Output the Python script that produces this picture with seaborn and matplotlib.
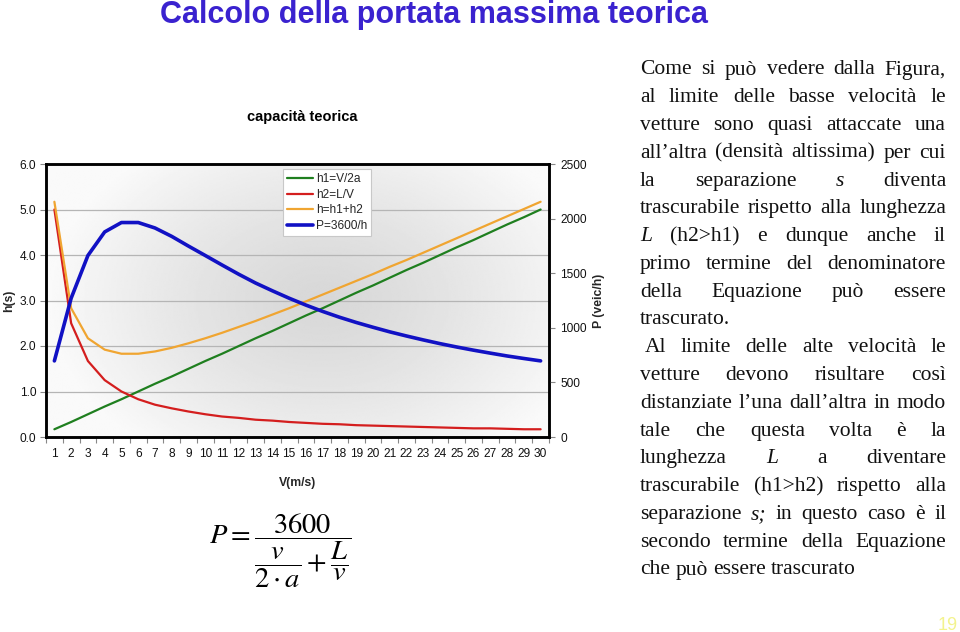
import numpy as np
import pandas as pd
import matplotlib
matplotlib.use("Agg")
import matplotlib.pyplot as plt
from matplotlib.transforms import IdentityTransform
from matplotlib.ticker import FixedLocator
import seaborn as sns

# ---------------- data ----------------
V = list(range(1, 31))
h1 = [0.17, 0.33, 0.50, 0.67, 0.83, 1.00, 1.17, 1.33, 1.50, 1.67, 1.83, 2.00, 2.17, 2.33, 2.50,
      2.67, 2.83, 3.00, 3.17, 3.33, 3.50, 3.67, 3.83, 4.00, 4.17, 4.33, 4.50, 4.67, 4.83, 5.00]
h2 = [5.00, 2.50, 1.67, 1.25, 1.00, 0.83, 0.71, 0.63, 0.56, 0.50, 0.45, 0.42, 0.38, 0.36, 0.33,
      0.31, 0.29, 0.28, 0.26, 0.25, 0.24, 0.23, 0.22, 0.21, 0.20, 0.19, 0.19, 0.18, 0.17, 0.17]
h = [5.17, 2.83, 2.17, 1.92, 1.83, 1.83, 1.88, 1.96, 2.06, 2.17, 2.29, 2.42, 2.55, 2.69, 2.83,
     2.98, 3.13, 3.28, 3.43, 3.58, 3.74, 3.89, 4.05, 4.21, 4.37, 4.53, 4.69, 4.85, 5.01, 5.17]
P = [697, 1271, 1662, 1878, 1964, 1964, 1914, 1837, 1748, 1662, 1575, 1490, 1410, 1339, 1271,
     1208, 1150, 1097, 1049, 1005, 963, 925, 889, 855, 824, 795, 768, 742, 719, 697]
series_labels = ["h1=V/2a", "h2=L/V", "h=h1+h2", "P=3600/h"]
left_ticks = [0, 1, 2, 3, 4, 5, 6]
left_ticklabels = ["0.0", "1.0", "2.0", "3.0", "4.0", "5.0", "6.0"]
right_ticks = [0, 500, 1000, 1500, 2000, 2500]

df = pd.DataFrame({"V": V, "h1": h1, "h2": h2, "h": h, "P": P})

sns.set_theme(style="white")
plt.rcParams["font.family"] = ["Liberation Sans", "DejaVu Sans"]
plt.rcParams["mathtext.fontset"] = "stix"

W, H = 960, 632
fig = plt.figure(figsize=(W / 100, H / 100), dpi=100)
fig.patch.set_facecolor("white")

ax_l, ax_r, ax_t, ax_b = 46, 549, 164, 437
ax = fig.add_axes([ax_l / W, 1 - ax_b / H, (ax_r - ax_l) / W, (ax_b - ax_t) / H])
ax2 = ax.twinx()

# background gradient
ny, nx = 200, 300
yy, xx = np.mgrid[0:1:ny * 1j, 0:1:nx * 1j]
rr = np.sqrt(((xx - 0.55) / 0.55) ** 2 + ((yy - 0.5) / 0.7) ** 2)
bg = 0.845 + 0.135 * np.clip(rr, 0, 1) ** 1.3
ax.imshow(bg, extent=(0.5, 30.5, 0, 6), origin="lower", aspect="auto",
          cmap="gray", vmin=0, vmax=1, zorder=-2, interpolation="bilinear")

c_green, c_red, c_orange, c_blue = "#1f7f1f", "#d41e1e", "#f0a531", "#1111c4"
sns.lineplot(data=df, x="V", y="h1", ax=ax, color=c_green, lw=1.6, label=series_labels[0], legend=False)
sns.lineplot(data=df, x="V", y="h2", ax=ax, color=c_red, lw=1.6, label=series_labels[1], legend=False)
sns.lineplot(data=df, x="V", y="h", ax=ax, color=c_orange, lw=1.6, label=series_labels[2], legend=False)
sns.lineplot(data=df, x="V", y="P", ax=ax2, color=c_blue, lw=2.6, label=series_labels[3], legend=False)

ax.set_xlim(0.5, 30.5)
ax.set_ylim(0, 6)
ax2.set_ylim(0, 2500)

ax.yaxis.grid(True, color="#b5b5b5", lw=0.9)
ax.xaxis.grid(False)
ax2.grid(False)

ax.set_yticks(left_ticks)
ax.set_yticklabels(left_ticklabels)
ax2.set_yticks(right_ticks)
ax2.set_yticklabels([str(t) for t in right_ticks])
ax.set_xticks(V)
ax.set_xticklabels([str(v) for v in V])
ax.xaxis.set_minor_locator(FixedLocator(np.arange(0.5, 31, 1)))

ax.tick_params(axis="x", which="major", length=0, pad=8, labelsize=8.6, colors="#111111")
ax.tick_params(axis="x", which="minor", length=4, width=0.8, color="#888888", direction="out", bottom=True)
ax.tick_params(axis="y", which="major", length=4, width=0.8, color="#888888", direction="out",
               left=True, pad=3, labelsize=8.6, labelcolor="#111111")
ax2.tick_params(axis="y", which="major", length=4, width=0.8, color="#888888", direction="out",
                right=True, pad=4, labelsize=8.6, labelcolor="#111111")

for a in (ax, ax2):
    for s in a.spines.values():
        s.set_color("black")
        s.set_linewidth(1.8)
        s.set_visible(True)

ax.set_xlabel("V(m/s)", fontsize=8.8, fontweight="bold")
ax.set_ylabel("h(s)", fontsize=8.8, fontweight="bold")
ax2.set_ylabel("P (veic/h)", fontsize=8.8, fontweight="bold")
ax.xaxis.set_label_coords(0.5, -0.148)
ax.yaxis.set_label_coords(-0.062, 0.5)
ax2.yaxis.set_label_coords(1.088, 0.5)

hl1, ll1 = ax.get_legend_handles_labels()
hl2, ll2 = ax2.get_legend_handles_labels()
leg = ax2.legend(hl1 + hl2, ll1 + ll2, loc="upper left",
                 bbox_to_anchor=((283 - ax_l) / (ax_r - ax_l), (ax_b - 169) / (ax_b - ax_t)),
                 fontsize=8.6, frameon=True, fancybox=False, framealpha=1,
                 edgecolor="#c8c8c8", facecolor="white", handlelength=2.2,
                 handletextpad=0.2, borderpad=0.35, labelspacing=0.3, borderaxespad=0)
leg.get_frame().set_linewidth(0.8)

# titles
fig.text(434 / W, 1 - 15 / H, "Calcolo della portata massima teorica", ha="center", va="center",
         fontsize=22, fontweight="bold", color="#3a22cf")
fig.text(302 / W, 1 - 117 / H, "capacità teorica", ha="center", va="center",
         fontsize=10.5, fontweight="bold", color="black")

# formula
fig.text(280 / W, 1 - 551 / H,
         r"$P=\dfrac{3600}{\dfrac{v}{2\cdot a}+\dfrac{L}{v}}$",
         ha="center", va="center", fontsize=20.5, color="black")

# page number
fig.text(948 / W, 1 - 625 / H, "19", ha="center", va="center", fontsize=13, color="#f3f38e")

# ---------------- justified text block ----------------
para1 = [
    ("Come si può vedere dalla Figura,", True),
    ("al limite delle basse velocità le", True),
    ("vetture sono quasi attaccate una", True),
    ("all’altra (densità altissima) per cui", True),
    ("la separazione *s diventa", True),
    ("trascurabile rispetto alla lunghezza", True),
    ("*L (h2>h1) e dunque anche il", True),
    ("primo termine del denominatore", True),
    ("della Equazione può essere", True),
    ("trascurato.", False),
]
para2 = [
    ("Al limite delle alte velocità le", True),
    ("vetture devono risultare così", True),
    ("distanziate l’una dall’altra in modo", True),
    ("tale che questa volta è la", True),
    ("lunghezza *L a diventare", True),
    ("trascurabile (h1>h2) rispetto alla", True),
    ("separazione *s; in questo caso è il", True),
    ("secondo termine della Equazione", True),
    ("che può essere trascurato", False),
]
lines = [(t, j, 640) for t, j in para1] + [(t, j, 645 if i == 0 else 640) for i, (t, j) in enumerate(para2)]

fig.canvas.draw()
renderer = fig.canvas.get_renderer()
serif = ["Liberation Serif", "DejaVu Serif"]


def make_word(w, size):
    st = "normal"
    if w.startswith("*"):
        w = w[1:]
        st = "italic"
    return fig.text(0, 0, w, fontsize=size, family=serif, style=st,
                    ha="left", va="baseline", transform=IdentityTransform(), color="#111111")


def measure(words, size):
    arts = [make_word(w, size) for w in words]
    ws = [a.get_window_extent(renderer=renderer).width for a in arts]
    for a in arts:
        a.remove()
    return ws


x_right = 946
base_size = 14.0
ratio = 10.0
for text, just, x0 in lines:
    if just:
        ws = measure(text.split(" "), base_size)
        nat = sum(ws) + 0.25 * base_size * 100 / 72 * (len(ws) - 1)
        ratio = min(ratio, (x_right - x0) / nat)
size = min(base_size * ratio, 15.5)

space = 0.25 * size * 100 / 72
first_center = 68
step = (568 - 68) / 18.0
for i, (text, just, x0) in enumerate(lines):
    words = text.split(" ")
    arts = [make_word(w, size) for w in words]
    ws = [a.get_window_extent(renderer=renderer).width for a in arts]
    if just and len(words) > 1:
        gap = (x_right - x0 - sum(ws)) / (len(words) - 1)
    else:
        gap = space
    y_base = H - (first_center + i * step + 6.5)
    x = x0
    for a, w in zip(arts, ws):
        a.set_position((x, y_base))
        x += w + gap

fig.savefig("out.png", dpi=100)
